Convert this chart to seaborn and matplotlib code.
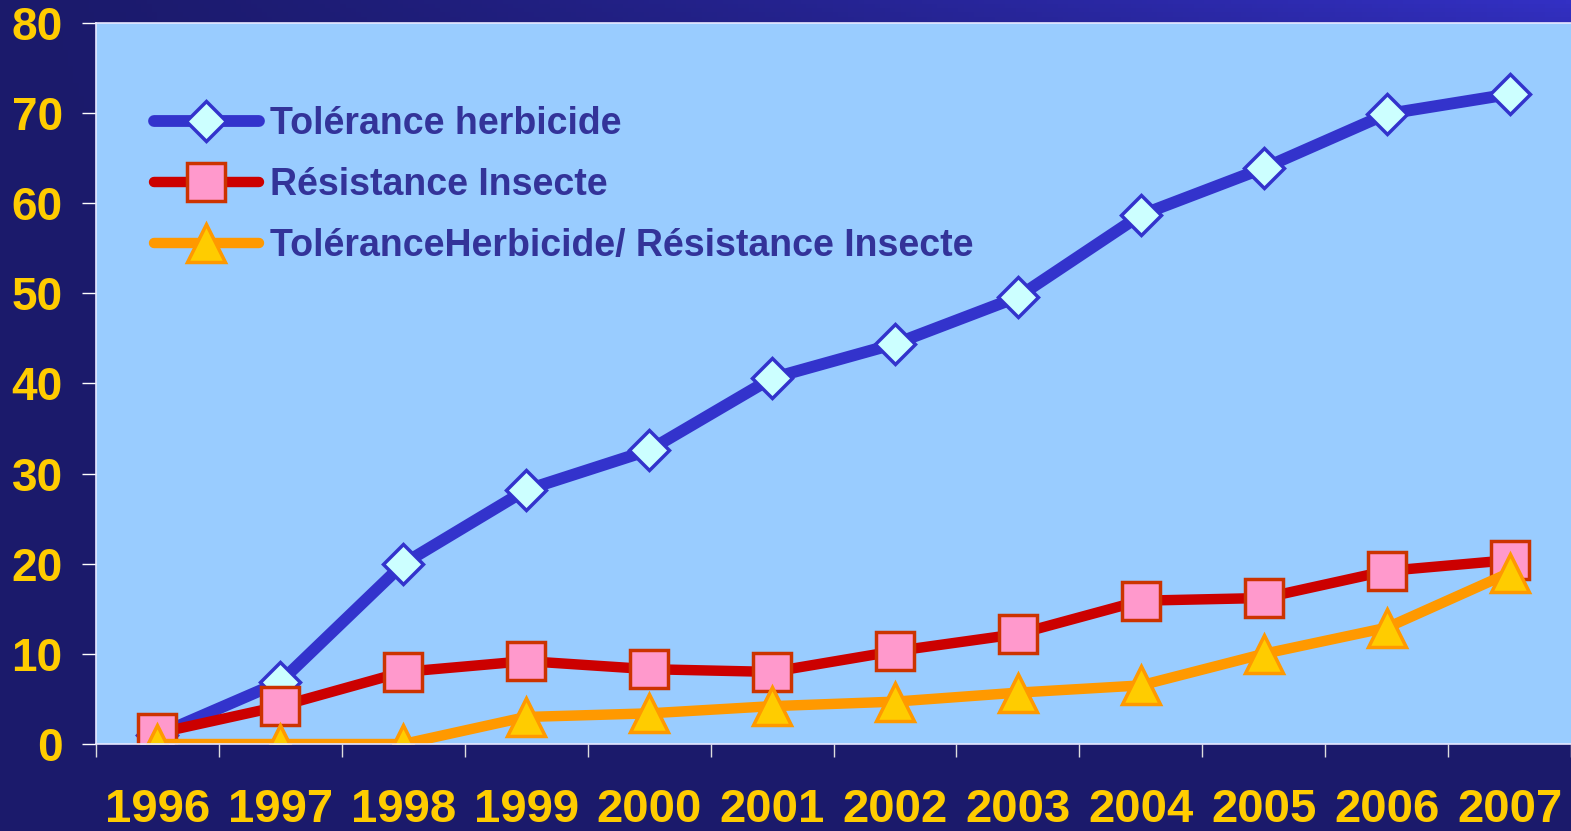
import numpy as np
import matplotlib
matplotlib.use("Agg")
import matplotlib.pyplot as plt
import seaborn as sns

# données (millions d'hectares)
years = [1996, 1997, 1998, 1999, 2000, 2001, 2002, 2003, 2004, 2005, 2006, 2007]
tol_herbicide = [1.0, 6.9, 20.0, 28.2, 32.6, 40.6, 44.4, 49.6, 58.7, 63.9, 69.9, 72.1]
res_insecte = [1.2, 4.2, 8.0, 9.2, 8.3, 8.0, 10.3, 12.2, 15.9, 16.2, 19.2, 20.4]
tol_res = [0.0, 0.0, 0.0, 3.0, 3.4, 4.2, 4.7, 5.7, 6.5, 10.0, 12.9, 19.0]
labels = ['Tolérance herbicide', 'Résistance Insecte',
          'ToléranceHerbicide/ Résistance Insecte']
y_ticks = [0, 10, 20, 30, 40, 50, 60, 70, 80]

sns.set_style('white')
plt.rcParams['font.family'] = ['Liberation Sans', 'DejaVu Sans']
plt.rcParams['font.weight'] = 'bold'

fig = plt.figure(figsize=(15.71, 8.31), dpi=100)

# fond dégradé bleu nuit
bg = fig.add_axes([0, 0, 1, 1], zorder=-1)
xx, yy = np.meshgrid(np.linspace(0, 1, 300), np.linspace(1, 0, 200))
t = (xx ** 1.3) * (yy ** 5)
dark = np.array([0x1b, 0x1a, 0x6b]) / 255
light = np.array([0x33, 0x30, 0xc4]) / 255
img = dark[None, None, :] * (1 - t[..., None]) + light[None, None, :] * t[..., None]
bg.imshow(img, aspect='auto', extent=[0, 1, 0, 1])
bg.axis('off')

ax = fig.add_axes([96 / 1571, 87 / 831, 1 - 96 / 1571, 721 / 831])
ax.set_facecolor('#99ccff')

sns.lineplot(x=years, y=tol_herbicide, ax=ax, color='#3333cc', linewidth=8.5,
             marker='D', markersize=20, markerfacecolor='#ccffff',
             markeredgecolor='#3333cc', markeredgewidth=2.5, label=labels[0])
sns.lineplot(x=years, y=res_insecte, ax=ax, color='#cc0000', linewidth=7.5,
             marker='s', markersize=27, markerfacecolor='#ff99cc',
             markeredgecolor='#cc3300', markeredgewidth=2.5, label=labels[1])
sns.lineplot(x=years, y=tol_res, ax=ax, color='#ff9900', linewidth=7.5,
             marker='^', markersize=28, markerfacecolor='#ffcc00',
             markeredgecolor='#ff9900', markeredgewidth=2.5, label=labels[2])

ax.set_xlim(years[0] - 0.5, years[-1] + 0.5)
ax.set_ylim(0, 80)
ax.set_yticks(y_ticks)
ax.set_xticks(years)
ax.set_xticks(np.arange(years[0] - 0.5, years[-1] + 0.6, 1), minor=True)
ax.set_xticklabels([str(y) for y in years])
ax.tick_params(axis='y', length=10, width=1, color='white', pad=14,
               labelsize=33, labelcolor='#ffcc00', left=True)
ax.tick_params(axis='x', which='major', length=0, pad=32,
               labelsize=34, labelcolor='#ffcc00')
ax.tick_params(axis='x', which='minor', length=9.5, width=1, color='#dddddd',
               bottom=True, direction='out')
for lab in ax.get_xticklabels() + ax.get_yticklabels():
    lab.set_fontweight('bold')
ax.set_xlabel('')
ax.set_ylabel('')

for side in ['left', 'bottom', 'top']:
    ax.spines[side].set_color('#e8e8ff')
    ax.spines[side].set_linewidth(1.2)
ax.spines['right'].set_visible(False)

leg = ax.legend(loc='upper left', bbox_to_anchor=(0.029, 0.905), frameon=False,
                fontsize=27, handlelength=2.8, handletextpad=0.3,
                labelspacing=0.66, borderaxespad=0)
for txt in leg.get_texts():
    txt.set_color('#333399')
    txt.set_fontweight('bold')

fig.savefig('out.png', dpi=100, facecolor=fig.get_facecolor())
